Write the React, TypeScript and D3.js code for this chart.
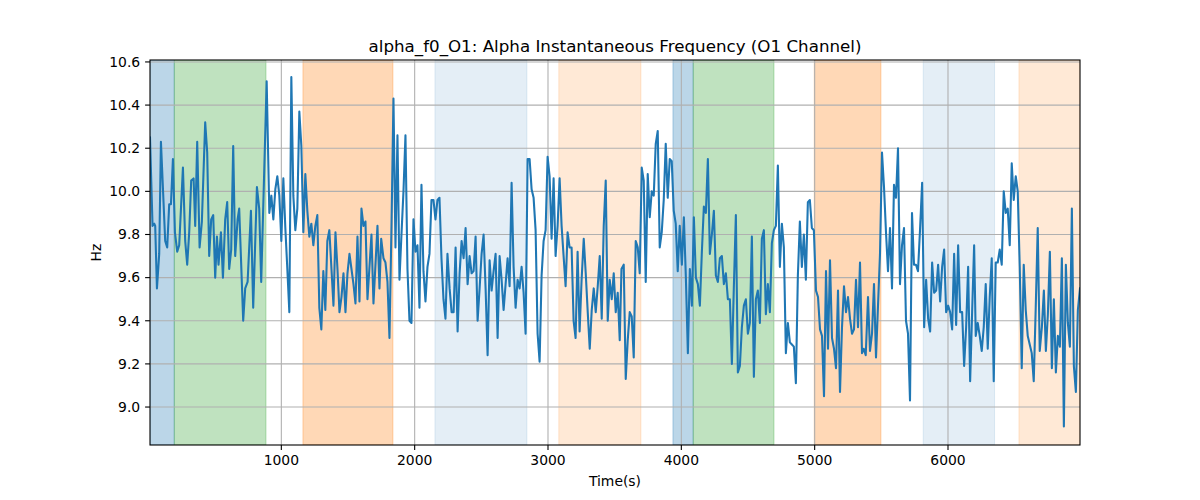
import React from 'react';
import * as d3 from 'd3';

const times = [
  15, 34, 47, 54, 67, 84, 97, 129, 144, 159, 172, 187, 202, 219, 234, 262, 279, 294, 309, 324,
  342, 354, 369, 387, 404, 429, 444, 459, 474, 489, 504, 517, 529, 547, 562, 579, 594, 609, 624, 639,
  654, 672, 684, 714, 729, 747, 772, 789, 817, 834, 849,
  890, 910, 925, 940, 955, 970, 985, 1000, 1015, 1030, 1045, 1060, 1075, 1090, 1105, 1120, 1135, 1150, 1165,
  1180, 1195, 1210, 1225, 1240, 1255, 1270, 1285, 1300, 1315, 1330, 1345, 1360, 1376, 1391, 1406, 1421, 1436, 1451,
  1466, 1481, 1496, 1511, 1526, 1541, 1556, 1571, 1586, 1601, 1616, 1631, 1646, 1676, 1691, 1721,
  1736, 1749, 1766, 1781, 1796, 1811, 1826, 1841, 1856, 1871, 1886, 1901, 1916, 1931, 1946, 1961, 1976, 1991,
  2006, 2021, 2036, 2051, 2066, 2081, 2096, 2111, 2126, 2141, 2156, 2171, 2186, 2201, 2216, 2231, 2246, 2262,
  2277, 2292, 2307, 2322, 2337, 2352, 2367, 2382, 2397, 2412, 2427, 2442, 2457, 2472, 2487, 2502, 2517, 2532,
  2547, 2562, 2577, 2592, 2607, 2622,
  2637, 2652, 2667, 2682, 2697, 2712, 2727, 2742, 2757, 2772, 2787, 2802, 2817, 2832, 2847, 2862, 2877, 2892,
  2907, 2922, 2937, 2952, 2967, 2982, 2997, 3012, 3027, 3042, 3057, 3072, 3087, 3102, 3117, 3132, 3147, 3162,
  3177, 3192, 3207, 3222, 3237, 3252, 3268, 3283, 3298, 3313, 3328, 3343, 3358, 3373, 3388, 3403, 3418, 3433,
  3448, 3463, 3478, 3493, 3508, 3523,
  3538, 3551, 3568, 3583, 3598, 3613, 3628, 3643, 3658, 3673, 3688, 3703, 3718, 3733, 3748, 3763, 3778, 3793,
  3808, 3823, 3838, 3853, 3868, 3883, 3898, 3913, 3928, 3943, 3958, 3973, 3988, 4004, 4019, 4034, 4049, 4064,
  4079, 4094, 4109, 4124, 4139, 4154, 4169, 4184, 4199, 4214, 4229, 4244, 4259, 4274, 4289, 4304, 4319, 4334,
  4349, 4364, 4379, 4394, 4409, 4424,
  4439, 4454, 4469, 4484, 4499, 4514, 4529, 4544, 4559, 4574, 4589, 4604, 4619, 4634, 4649, 4664, 4679, 4694,
  4709, 4724, 4739, 4754, 4769, 4784, 4799, 4814, 4829, 4844, 4859, 4874, 4889, 4904, 4919, 4934, 4949, 4964,
  4979, 4994, 5010, 5025, 5040, 5055, 5070, 5085, 5100, 5115, 5130, 5145, 5160, 5175, 5190, 5205, 5220, 5235,
  5250, 5265, 5280, 5295, 5310, 5325,
  5340, 5355, 5368, 5383, 5400, 5415, 5430, 5445, 5460, 5475, 5490, 5505, 5520, 5535, 5550, 5565, 5580, 5595,
  5610, 5625, 5640, 5655, 5670, 5685, 5700, 5715, 5730, 5745, 5760, 5775, 5790, 5806, 5821, 5836, 5851, 5866,
  5881, 5896, 5911, 5926, 5941, 5956, 5971, 5986, 6001, 6016, 6031, 6046, 6061, 6076, 6091, 6106, 6121, 6136,
  6151, 6166, 6181, 6196,
  6208, 6223, 6238, 6253, 6268, 6283, 6298, 6313, 6328, 6343, 6358, 6373, 6388, 6403, 6418, 6433, 6448, 6463,
  6478, 6493, 6508, 6523, 6538, 6553, 6568, 6583, 6598, 6613, 6628, 6643, 6658, 6673, 6688, 6704, 6719, 6734,
  6749, 6764, 6779, 6794, 6809, 6824, 6839, 6854, 6869, 6884, 6899, 6914, 6929, 6944, 6959, 6974, 6990,
];

const values = [
  10.25, 9.84, 9.85, 9.84, 9.55, 9.71, 10.23, 9.77, 9.74, 9.94, 9.94, 10.15, 9.81, 9.72, 9.75, 10.11, 9.77, 9.66, 9.81, 10.05,
  10.06, 9.84, 10.23, 9.74, 9.86, 10.32, 10.18, 9.70, 9.87, 9.89, 9.60, 9.79, 9.66, 9.81, 9.60, 9.87, 9.95, 9.64, 9.73, 10.21,
  9.70, 9.87, 9.92, 9.40, 9.55, 9.58, 9.91, 9.46, 10.02, 9.92, 9.58,
  10.51, 9.90, 9.98, 9.87, 10.01, 10.07, 9.98, 9.77, 10.06, 9.83, 9.64, 9.44, 10.53, 9.98, 9.82, 9.92, 10.37, 10.21, 9.81,
  10.08, 9.91, 9.79, 9.85, 9.75, 9.84, 9.89, 9.46, 9.36, 9.63, 9.45, 9.77, 9.82, 9.64, 9.47, 9.81, 9.64, 9.44, 9.51,
  9.62, 9.44, 9.62, 9.71, 9.64, 9.57, 9.48, 9.79, 9.49, 9.92, 9.84, 9.86, 9.50, 9.80, 9.48, 9.84,
  9.55, 9.78, 9.69, 9.67, 9.58, 9.32, 9.83, 10.43, 9.74, 10.26, 9.59, 9.80, 10.00, 10.26, 9.64, 9.40, 9.39, 9.87,
  9.72, 9.75, 9.46, 10.03, 9.63, 9.49, 9.65, 9.71, 9.96, 9.96, 9.87, 9.96, 9.97, 9.69, 9.50, 9.41, 9.71, 9.55,
  9.44, 9.44, 9.74, 9.35, 9.62, 9.77, 9.69, 9.83, 9.57, 9.70, 9.62, 9.63, 9.79, 9.40, 9.55, 9.71, 9.80, 9.55,
  9.24, 9.68, 9.54, 9.63, 9.71, 9.32,
  9.70, 9.59, 9.45, 9.57, 9.69, 9.56, 10.04, 9.65, 9.46, 9.59, 9.55, 9.65, 9.53, 9.34, 10.15, 10.15, 10.01, 9.97,
  9.82, 9.34, 9.21, 9.61, 9.77, 9.82, 10.16, 10.07, 9.78, 10.06, 9.70, 9.84, 10.06, 9.84, 9.70, 9.56, 9.81, 9.74,
  9.74, 9.40, 9.32, 9.72, 9.35, 9.59, 9.78, 9.62, 9.44, 9.27, 9.45, 9.55, 9.44, 9.56, 9.70, 9.41, 9.84, 10.05,
  9.40, 9.59, 9.50, 9.62, 9.44, 9.53,
  9.31, 9.64, 9.66, 9.13, 9.31, 9.44, 9.42, 9.23, 9.77, 9.74, 9.62, 10.11, 10.05, 9.58, 10.08, 9.88, 10.00, 9.98,
  10.22, 10.28, 9.74, 9.81, 9.96, 10.22, 9.97, 10.15, 10.14, 9.91, 9.85, 9.63, 9.84, 9.66, 9.88, 9.60, 9.25, 9.64,
  9.47, 9.88, 9.60, 9.57, 9.47, 9.72, 9.93, 9.90, 10.15, 9.71, 9.80, 9.91, 9.61, 9.58, 9.69, 9.70, 9.57, 9.62,
  9.50, 9.50, 9.20, 9.56, 9.89, 9.16,
  9.19, 9.37, 9.47, 9.50, 9.34, 9.39, 9.79, 9.14, 9.50, 9.54, 9.39, 9.78, 9.82, 9.43, 9.57, 9.44, 9.76, 9.82,
  9.84, 10.12, 9.65, 9.85, 9.74, 9.25, 9.39, 9.30, 9.29, 9.28, 9.11, 9.61, 9.86, 9.65, 9.80, 9.59, 9.95, 9.96,
  9.83, 9.82, 9.54, 9.51, 9.36, 9.33, 9.05, 9.63, 9.27, 9.68, 9.32, 9.27, 9.18, 9.54, 9.07, 9.37, 9.56, 9.44,
  9.51, 9.41, 9.34, 9.36, 9.59, 9.37,
  9.67, 9.25, 9.27, 9.24, 9.51, 9.26, 9.34, 9.57, 9.23, 9.47, 9.71, 10.18, 10.02, 9.81, 9.63, 9.83, 9.55, 10.03,
  9.97, 10.20, 9.57, 9.75, 9.83, 9.40, 9.34, 9.03, 9.90, 9.66, 9.66, 9.63, 9.82, 10.04, 9.37, 9.59, 9.41, 9.35,
  9.67, 9.53, 9.54, 9.66, 9.49, 9.65, 9.73, 9.44, 9.47, 9.44, 9.36, 9.71, 9.38, 9.75, 9.44, 9.44, 9.19, 9.37,
  9.65, 9.12, 9.44, 9.75,
  9.33, 9.39, 9.33, 9.26, 9.37, 9.57, 9.27, 9.51, 9.69, 9.12, 9.67, 9.67, 9.73, 9.66, 10.00, 9.90, 9.92, 9.75,
  10.13, 9.96, 10.07, 10.00, 9.65, 9.18, 9.66, 9.45, 9.33, 9.29, 9.25, 9.12, 9.46, 9.83, 9.26, 9.37, 9.54, 9.26,
  9.43, 9.72, 9.18, 9.50, 9.16, 9.33, 9.28, 9.69, 8.91, 9.66, 9.39, 9.28, 9.92, 9.19, 9.07, 9.45, 9.55,
];

const spanStarts = [15, 197, 1162, 2152, 3081, 3937, 4089, 4997, 5814, 6532];
const spanEnds = [197, 885, 1837, 2842, 3697, 4089, 4695, 5497, 6349, 6990];
const spanColors = ['#1f77b4', '#2ca02c', '#ff7f0e', '#1f77b4', '#ff7f0e', '#1f77b4', '#2ca02c', '#ff7f0e', '#1f77b4', '#ff7f0e'];
const spanAlphas = [0.3, 0.3, 0.3, 0.12, 0.17, 0.3, 0.3, 0.3, 0.12, 0.17];

const xTicks = [1000, 2000, 3000, 4000, 5000, 6000];
const yTicks = [9.0, 9.2, 9.4, 9.6, 9.8, 10.0, 10.2, 10.4, 10.6];

const titleText = 'alpha_f0_O1: Alpha Instantaneous Frequency (O1 Channel)';
const xLabelText = 'Time(s)';
const yLabelText = 'Hz';

const W = 1200;
const H = 500;
const left = 150;
const right = 1080;
const top = 60;
const bottom = 445;
const FONT = '"DejaVu Sans", sans-serif';

export default function App() {
  const x = d3.scaleLinear().domain([15, 6990]).range([left, right]);
  const y = d3.scaleLinear().domain([8.824, 10.609]).range([bottom, top]);
  const pts: [number, number][] = times.map((t, i) => [t, values[i]]);
  const line = d3
    .line<[number, number]>()
    .x((d) => x(d[0]))
    .y((d) => y(d[1]));
  const fmt = d3.format('.1f');

  return (
    <svg
      width={W}
      height={H}
      style={{ position: 'absolute', left: 0, top: 0, background: '#fff' }}
      fontFamily={FONT}
    >
      <rect x={0} y={0} width={W} height={H} fill="#fff" />
      <defs>
        <clipPath id="plotclip">
          <rect x={left} y={top} width={right - left} height={bottom - top} />
        </clipPath>
      </defs>
      <g clipPath="url(#plotclip)">
        {spanStarts.map((s, i) => (
          <rect
            key={i}
            x={x(s)}
            y={top}
            width={x(spanEnds[i]) - x(s)}
            height={bottom - top}
            fill={spanColors[i]}
            fillOpacity={spanAlphas[i]}
            stroke={spanColors[i]}
            strokeOpacity={spanAlphas[i]}
            strokeWidth={1}
          />
        ))}
        {xTicks.map((t) => (
          <line key={'gx' + t} x1={x(t)} x2={x(t)} y1={top} y2={bottom} stroke="#b0b0b0" strokeWidth={1.1} />
        ))}
        {yTicks.map((t) => (
          <line key={'gy' + t} x1={left} x2={right} y1={y(t)} y2={y(t)} stroke="#b0b0b0" strokeWidth={1.1} />
        ))}
        <path d={line(pts) || ''} fill="none" stroke="#1f77b4" strokeWidth={2.08} strokeLinejoin="round" strokeLinecap="square" />
      </g>
      <rect x={left} y={top} width={right - left} height={bottom - top} fill="none" stroke="#000" strokeWidth={1.1} />
      {xTicks.map((t) => (
        <g key={'tx' + t}>
          <line x1={x(t)} x2={x(t)} y1={bottom} y2={bottom + 4.9} stroke="#000" strokeWidth={1.1} />
          <text x={x(t)} y={bottom + 20} textAnchor="middle" fontSize={13.9} fill="#000">
            {t}
          </text>
        </g>
      ))}
      {yTicks.map((t) => (
        <g key={'ty' + t}>
          <line x1={left - 4.9} x2={left} y1={y(t)} y2={y(t)} stroke="#000" strokeWidth={1.1} />
          <text x={left - 9.8} y={y(t)} dy="0.35em" textAnchor="end" fontSize={13.9} fill="#000">
            {fmt(t)}
          </text>
        </g>
      ))}
      <text x={(left + right) / 2} y={52} textAnchor="middle" fontSize={16.7} fill="#000">
        {titleText}
      </text>
      <text x={(left + right) / 2} y={486} textAnchor="middle" fontSize={13.9} fill="#000">
        {xLabelText}
      </text>
      <text
        transform={`translate(${101}, ${(top + bottom) / 2}) rotate(-90)`}
        textAnchor="middle"
        fontSize={13.9}
        fill="#000"
      >
        {yLabelText}
      </text>
    </svg>
  );
}
